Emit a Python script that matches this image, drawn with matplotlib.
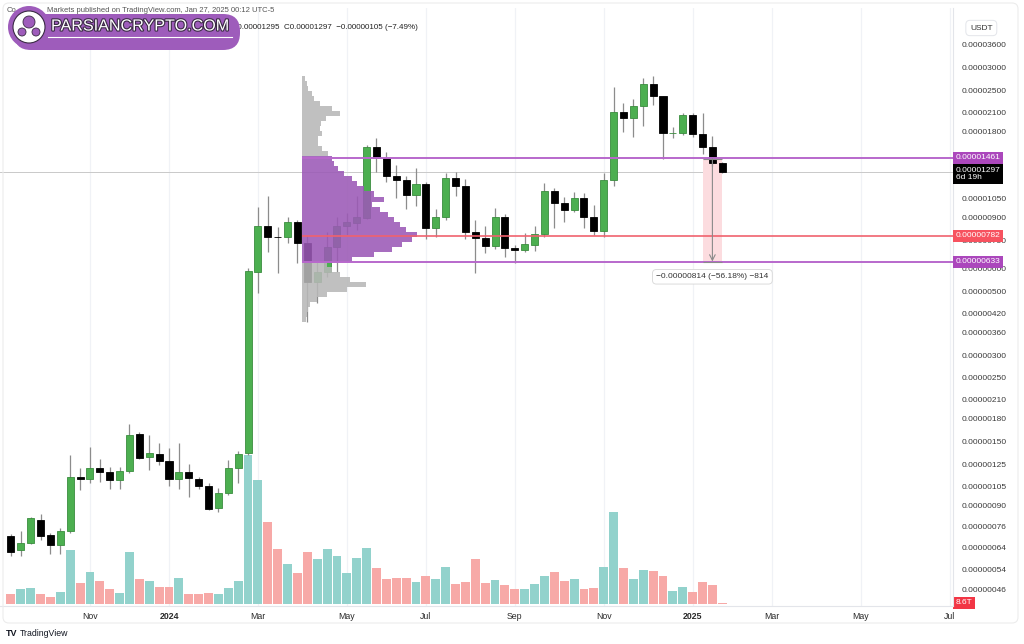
import numpy as np
import pandas as pd
import matplotlib
matplotlib.use("Agg")
import matplotlib.pyplot as plt
import matplotlib.dates as mdates
import matplotlib.transforms as mtransforms
import matplotlib.patheffects as pe
from matplotlib.patches import FancyBboxPatch, Circle, Rectangle
from matplotlib.ticker import NullLocator

plt.rcParams['font.family'] = ['Liberation Sans', 'DejaVu Sans']

# weekly candles, prices in millionths of a USDT
weeks = pd.date_range("2023-09-11", "2025-01-27", freq="7D")
opens = [0.706, 0.630, 0.664, 0.800, 0.712, 0.655, 0.735, 1.127, 1.109, 1.217,
         1.179, 1.100, 1.188, 1.594, 1.329, 1.355, 1.284, 1.109, 1.179, 1.109,
         1.051, 0.883, 0.991, 1.211, 1.366, 5.853, 8.443, 7.75, 7.75, 8.70,
         7.35, 5.38, 5.85, 7.15, 8.46, 8.65, 9.02, 15.86, 14.52, 12.62,
         12.21, 10.80, 11.82, 8.31, 9.10, 12.37, 11.63, 8.03, 7.65, 7.19,
         9.05, 7.10, 6.97, 7.25, 7.92, 11.18, 10.13, 9.60, 10.59, 9.10,
         8.11, 12.21, 21.00, 20.01, 22.08, 26.28, 23.98, 17.74, 17.80, 20.55,
         17.60, 15.94, 14.02]
highs = [0.716, 0.735, 0.822, 0.840, 0.721, 0.753, 1.348, 1.214, 1.440, 1.305,
         1.227, 1.227, 1.728, 1.620, 1.582, 1.484, 1.425, 1.484, 1.254, 1.133,
         1.077, 1.034, 1.295, 1.395, 6.03, 9.806, 10.737, 8.40, 9.10, 8.86,
         7.86, 6.33, 8.07, 9.10, 9.37, 10.74, 16.16, 17.05, 15.31, 13.76,
         12.60, 13.40, 12.04, 9.67, 12.94, 13.05, 12.30, 8.86, 8.44, 9.73,
         9.30, 7.25, 7.96, 8.44, 11.89, 11.45, 10.68, 11.11, 11.00, 9.99,
         12.88, 25.78, 22.67, 23.30, 27.57, 28.15, 24.00, 18.71, 20.83, 20.83,
         20.83, 17.37, 14.10]
lows = [0.600, 0.600, 0.660, 0.682, 0.610, 0.610, 0.720, 1.018, 1.077, 1.085,
        1.026, 1.026, 1.167, 1.305, 1.195, 1.244, 1.051, 1.026, 0.965, 1.026,
        0.867, 0.856, 0.978, 1.079, 1.348, 4.923, 6.871, 5.78, 7.35, 6.29,
        3.90, 4.56, 5.62, 5.85, 7.86, 8.18, 8.90, 13.05, 12.04, 10.54,
        9.65, 9.91, 7.61, 7.75, 8.86, 10.74, 7.61, 5.81, 6.80, 7.00,
        6.60, 6.26, 6.87, 6.93, 7.75, 8.29, 8.74, 9.47, 8.29, 7.86,
        7.75, 11.63, 17.97, 17.27, 18.81, 22.26, 14.41, 17.05, 17.50, 17.27,
        15.03, 13.60, 12.95]
closes = [0.618, 0.664, 0.812, 0.706, 0.655, 0.733, 1.127, 1.109, 1.214, 1.179,
          1.100, 1.188, 1.582, 1.319, 1.373, 1.287, 1.109, 1.179, 1.121, 1.051,
          0.872, 0.991, 1.214, 1.355, 5.90, 8.443, 7.749, 7.70, 8.70, 7.385,
          5.38, 5.85, 7.15, 8.46, 8.70, 9.10, 15.86, 14.52, 12.62, 12.21,
          10.80, 11.82, 8.31, 9.10, 12.37, 11.63, 8.03, 7.65, 7.19, 9.05,
          7.06, 6.97, 7.29, 7.92, 11.18, 10.13, 9.60, 10.59, 9.05, 8.11,
          12.21, 21.10, 20.01, 22.08, 26.28, 23.98, 17.74, 17.80, 20.55, 17.60,
          15.94, 14.02, 12.97]
# weekly volume, trillions of tokens
volume_T = [62, 88, 96, 60, 42, 74, 322, 124, 192, 136,
            88, 68, 312, 148, 140, 102, 102, 154, 58, 58,
            68, 58, 98, 138, 894, 744, 492, 332, 242, 186,
            312, 272, 328, 286, 188, 278, 338, 218, 148, 154,
            154, 134, 170, 152, 224, 118, 130, 272, 128, 146,
            112, 88, 88, 122, 170, 190, 140, 150, 92, 98,
            224, 550, 218, 148, 206, 198, 166, 76, 100, 70,
            134, 116, 8.6]

# fixed range volume profile, rows from low to high price
profile_start = "2024-04-08"
profile_low, profile_high = 3.90, 28.15
profile_vol = [4, 5, 6, 8, 15, 25, 45, 64, 48, 38, 30, 25,
               50, 72, 90, 100, 110, 115, 104, 98, 92, 86, 78, 70, 82, 72,
               62, 55, 50, 42, 36, 32, 30,
               26, 20, 16, 16, 20, 18, 19, 24, 38, 30, 18, 12, 10, 6, 5, 3]
vah, poc, val = 14.61, 7.82, 6.33
last_price = 12.97
measure_weeks = ("2025-01-13", "2025-01-27")
measure_from, measure_to = 14.49, 6.35
measure_text = "\u22120.00000814 (\u221256.18%) \u2212814"

price_ticks = [36, 30, 25, 21, 18, 10.5, 9.0, 7.5, 6.0, 5.0, 4.2, 3.6,
               3.0, 2.5, 2.1, 1.8, 1.5, 1.25, 1.05, 0.90, 0.76, 0.64, 0.54, 0.46]
month_starts = ["2023-11", "2024-01", "2024-03", "2024-05", "2024-07", "2024-09",
                "2024-11", "2025-01", "2025-03", "2025-05", "2025-07"]
month_labels = ["Nov", "2024", "Mar", "May", "Jul", "Sep", "Nov", "2025", "Mar", "May", "Jul"]

U = 1e-6
o, h, l, c = (np.array(v) * U for v in (opens, highs, lows, closes))
x = mdates.date2num(weeks)
up = c >= o

# first weekly bar of each month
tick_x = []
for m in month_starts:
    d = pd.Timestamp(m + "-01")
    d = d + pd.Timedelta(days=(7 - d.weekday()) % 7)
    tick_x.append(mdates.date2num(d))

px_per_day = 9.88 / 7
ref = mdates.date2num(pd.Timestamp("2024-01-01"))
x0 = ref - 169 / px_per_day
x1 = ref + (953 - 169) / px_per_day

fig = plt.figure(figsize=(10.24, 6.44), dpi=100)
rect = [0.0, 38 / 644, 953 / 1024, 598 / 644]

# volume pane (behind)
ax_v = fig.add_axes(rect)
for tx in tick_x:
    ax_v.axvline(tx, color='#f0f2f6', lw=0.9, zorder=0)
ax_v.bar(x, volume_T, width=6.3, color=np.where(up, '#92d2cc', '#f7a9a7'), zorder=1)
ax_v.set_ylim(-12, 3576)
ax_v.set_xlim(x0, x1)
ax_v.axis('off')

ax = fig.add_axes(rect, sharex=ax_v)
ax.patch.set_alpha(0)
ax.set_yscale('log')
ax.set_ylim(4.018e-7, 4.842e-5)
ax.set_xlim(x0, x1)

# last price line
ax.axhline(last_price * U, color='#c9c9c9', lw=0.7, zorder=1)

# measure tool
i0 = weeks.get_loc(pd.Timestamp(measure_weeks[0]))
i1 = weeks.get_loc(pd.Timestamp(measure_weeks[1]))
ax.add_patch(Rectangle((x[i0], measure_to * U), x[i1] - x[i0], (measure_from - measure_to) * U,
                       fc='#fcdcdf', ec='none', zorder=1.5))
xm = (x[i0] + x[i1]) / 2
ax.annotate('', xy=(xm, measure_to * U), xytext=(xm, measure_from * U),
            arrowprops=dict(arrowstyle='->', color='#8a8a8a', lw=0.8, shrinkA=0, shrinkB=0), zorder=6)
ax.hlines([measure_from * U, measure_to * U], x[i0], x[i1], color='#8a8a8a', lw=0.8, zorder=6)
ax.annotate(measure_text, xy=(xm, measure_to * U), xytext=(0, -11), textcoords='offset points',
            ha='center', va='center', fontsize=6, color='#333333', zorder=7,
            bbox=dict(boxstyle='round,pad=0.45', fc='white', ec='#d6d6d6', lw=0.6))

# candles
ax.vlines(x, l, h, color='#8c8c8c', lw=0.9, zorder=2)
bottom = np.minimum(o, c)
height = np.abs(c - o)
ax.bar(x[up], height[up], bottom=bottom[up], width=5.0, color='#4caf50',
       edgecolor='#3a8d3e', lw=0.6, zorder=3)
ax.bar(x[~up], height[~up], bottom=bottom[~up], width=5.0, color='#000000',
       edgecolor='#000000', lw=0.6, zorder=3)

# volume profile
p_start = x[weeks.get_loc(pd.Timestamp(profile_start))] - 3.5
p_end = x[-1] + 2.5
edges = np.geomspace(profile_low, profile_high, len(profile_vol) + 1) * U
centers = np.sqrt(edges[:-1] * edges[1:])
in_va = (centers >= val * U) & (centers <= vah * U)
widths = np.array(profile_vol) / max(profile_vol) * 0.27 * (p_end - p_start)
ax.barh(edges[:-1], widths, height=np.diff(edges), left=p_start, align='edge',
        color=np.where(in_va, '#9b59b6', '#b8b8b8'), alpha=0.88, lw=0, zorder=4)

# value area / poc lines
ax.hlines([vah * U, val * U], p_start, x1, color='#b868cc', lw=1.4, zorder=5)
ax.hlines(poc * U, p_start, x1, color='#f0626e', lw=1.2, zorder=5)

# axes styling
ax.yaxis.tick_right()
ax.yaxis.set_minor_locator(NullLocator())
ax.set_yticks([t * U for t in price_ticks])
ax.set_yticklabels([f"{t * U:.8f}" for t in price_ticks])
ax.tick_params(axis='y', length=0, pad=6, labelsize=6, labelcolor='#3a3a3a')
ax.set_xticks(tick_x)
ax.set_xticklabels(month_labels)
ax.tick_params(axis='x', length=0, pad=4, labelsize=6.3, labelcolor='#2a2a2a')
for lab in ax.get_xticklabels():
    if lab.get_text().isdigit():
        lab.set_fontweight('bold')
for side in ('top', 'left'):
    ax.spines[side].set_visible(False)
for side in ('right', 'bottom'):
    ax.spines[side].set_color('#e3e5ea')
    ax.spines[side].set_linewidth(0.8)

# price labels on the scale
tr = mtransforms.blended_transform_factory(ax.transAxes, ax.transData)
box_kw = dict(ha='left', va='center', fontsize=6, color='white', zorder=8, clip_on=False)
ax.text(1.003, vah * U, f"{vah * U:.8f}", transform=tr,
        bbox=dict(boxstyle='square,pad=0.3', fc='#ab47bc', ec='none'), **box_kw)
ax.text(1.003, poc * U, f"{poc * U:.8f}", transform=tr,
        bbox=dict(boxstyle='square,pad=0.3', fc='#f7525f', ec='none'), **box_kw)
ax.text(1.003, val * U, f"{val * U:.8f}", transform=tr,
        bbox=dict(boxstyle='square,pad=0.3', fc='#ab47bc', ec='none'), **box_kw)
ax.annotate(f"{last_price * U:.8f}\n6d 19h", xy=(1.003, last_price * U), xycoords=tr,
            xytext=(0, 4), textcoords='offset points', ha='left', va='top', fontsize=6,
            color='white', linespacing=1.1, zorder=8, annotation_clip=False,
            bbox=dict(boxstyle='square,pad=0.3', fc='#000000', ec='none'))
trv = mtransforms.blended_transform_factory(ax_v.transAxes, ax_v.transData)
ax_v.text(1.003, volume_T[-1], f"{volume_T[-1]}T", transform=trv, ha='left', va='center',
          fontsize=6, color='white', clip_on=False, zorder=8,
          bbox=dict(boxstyle='square,pad=0.3', fc='#f23645', ec='none'))

# overlay in pixel coordinates for header, watermark and footer
ov = fig.add_axes([0, 0, 1, 1])
ov.set_xlim(0, 1024)
ov.set_ylim(644, 0)
ov.axis('off')
ov.patch.set_visible(False)

ov.text(7, 10, "Co", fontsize=5.5, color='#555555', va='center')
ov.text(47, 10, "Markets published on TradingView.com, Jan 27, 2025 00:12 UTC-5",
        fontsize=5.5, color='#555555', va='center')
ov.text(233, 27, "L0.00001295  C0.00001297  \u22120.00000105 (\u22127.49%)",
        fontsize=5.8, color='#222222', va='center')

ov.add_patch(FancyBboxPatch((14, 14), 226, 36, boxstyle='round,pad=0,rounding_size=17',
                            fc='#9e5cbb', ec='none', zorder=3))
ov.plot([48, 232], [37, 37], color='white', lw=0.8, zorder=4)
ov.add_patch(Circle((29, 27), 21, fc='#9e5cbb', ec='none', zorder=4))
ov.add_patch(Circle((29, 27), 16, fc='white', ec='#3b2b45', lw=0.8, zorder=5))
ov.add_patch(Circle((29, 22), 6, fc='#9e5cbb', ec='#3b2b45', lw=0.6, zorder=6))
ov.add_patch(Circle((22, 32), 4, fc='#9e5cbb', ec='#3b2b45', lw=0.6, zorder=6))
ov.add_patch(Circle((36, 32), 4, fc='#9e5cbb', ec='#3b2b45', lw=0.6, zorder=6))
ov.text(51, 26, "PARSIANCRYPTO.COM", fontsize=11.6, color='white', va='center', ha='left', zorder=7,
        path_effects=[pe.withStroke(linewidth=1.6, foreground='#3b2b45')])

ov.text(970, 28, "USDT", fontsize=6, color='#333333', va='center', ha='left',
        bbox=dict(boxstyle='round,pad=0.5', fc='white', ec='#e3e5ea', lw=0.7))

ov.text(6, 633, "TV", fontsize=6.5, fontweight='bold', color='#131722', va='center')
ov.text(20, 633, "TradingView", fontsize=6.3, color='#131722', va='center')
ov.add_patch(FancyBboxPatch((3, 3), 1015, 620, boxstyle='round,pad=0,rounding_size=6',
                            fc='none', ec='#ececec', lw=0.8))

fig.savefig("out.png", dpi=100)
